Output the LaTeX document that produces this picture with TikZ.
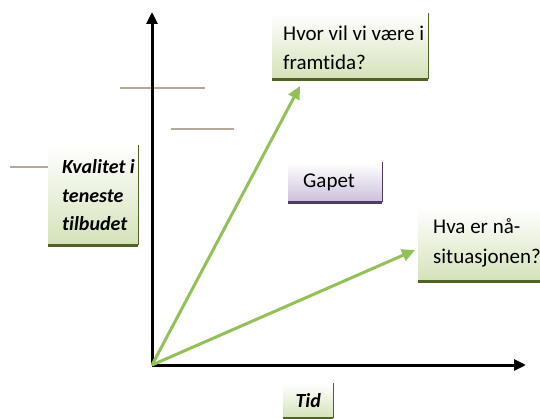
\documentclass[tikz,border=0pt]{standalone}
\usepackage{fontspec}
\setmainfont[Ligatures=NoCommon]{Carlito}
\usetikzlibrary{arrows.meta}
\definecolor{boxgreen}{HTML}{D4E2B8}
\definecolor{edgegreen}{HTML}{4F6228}
\definecolor{boxpurple}{HTML}{CBBFDC}
\definecolor{edgepurple}{HTML}{4E3C66}
\definecolor{arrowgreen}{HTML}{92C257}
\definecolor{strayline}{HTML}{B3AA9C}
\tikzset{
  txt/.style={font=\fontsize{21}{29}\selectfont},
  gbox/.style={txt, top color=white, bottom color=boxgreen, anchor=north west, align=left, inner sep=0pt},
  pbox/.style={txt, top color=white, bottom color=boxpurple, anchor=north west, align=left, inner sep=0pt},
  gedge/.style={draw=edgegreen, line width=3pt},
  gside/.style={draw=edgegreen, line width=1.5pt},
  pedge/.style={draw=edgepurple, line width=3pt},
  pside/.style={draw=edgepurple, line width=1.5pt},
  axis/.style={draw=black, line width=3pt, -{Triangle[length=12pt,width=11pt]}},
  growth/.style={draw=arrowgreen, line width=3pt, -{Triangle[length=13pt,width=12pt]}},
  stray/.style={draw=strayline, line width=1.2pt},
  lbl/.style={txt, anchor=west, inner sep=0pt}
}
\begin{document}
\begin{tikzpicture}[x=1pt,y=-1pt]
\useasboundingbox (0,0) rectangle (540,419);
% stray lines
\draw[stray] (120,88) -- (205,88);
\draw[stray] (171,129) -- (234,129);
\draw[stray] (10,167) -- (48,167);
% axes
\coordinate (O) at (152,365);
\coordinate (ytip) at (152,12);
\coordinate (xtip) at (526,365);
\draw[axis] (O) -- (ytip);
\draw[axis] (O) -- (xtip);
% boxes
\node[gbox, minimum width=156pt, minimum height=66pt] (future) at (272,13) {};
\node[lbl, align=left] (futuretxt) at (283,48) {Hvor vil vi være i\\framtida?};
\draw[gedge] (future.south west) -- (future.south east);
\draw[gside] (future.south east) -- (future.north east);

\node[gbox, minimum width=90pt, minimum height=100pt] (quality) at (48,145) {};
\node[lbl, align=left, font=\fontsize{20}{28.5}\selectfont\bfseries\itshape] (qualitytxt) at (62,195.5) {Kvalitet i\\teneste\\tilbudet};
\draw[gedge] (quality.south west) -- (quality.south east);
\draw[gside] (quality.south east) -- (quality.north east);

\node[pbox, minimum width=94pt, minimum height=40pt] (gap) at (288,162) {};
\node[lbl] (gaptxt) at (303,182) {Gapet};
\draw[pedge] (gap.south west) -- (gap.south east);
\draw[pside] (gap.south east) -- (gap.north east);

\node[gbox, minimum width=124pt, minimum height=74pt] (now) at (418,207) {};
\node[lbl, align=left, font=\fontsize{21}{30}\selectfont] (nowtxt) at (433,243) {Hva er nå-\\situasjonen?};
\draw[gedge] (now.south west) -- (now.south east);

\node[gbox, minimum width=50pt, minimum height=35pt] (time) at (283,383) {};
\node[txt, font=\fontsize{20}{24}\selectfont\bfseries\itshape, inner sep=0pt] (timetxt) at (time.center) {Tid};
\draw[gedge] (time.south west) -- (time.south east);
\draw[gside] (time.south east) -- (time.north east);

% growth arrows
\coordinate (t1) at (300,86);
\coordinate (t2) at (415,250);
\draw[growth] (O) -- (t1);
\draw[growth] (O) -- (t2);
\end{tikzpicture}
\end{document}
